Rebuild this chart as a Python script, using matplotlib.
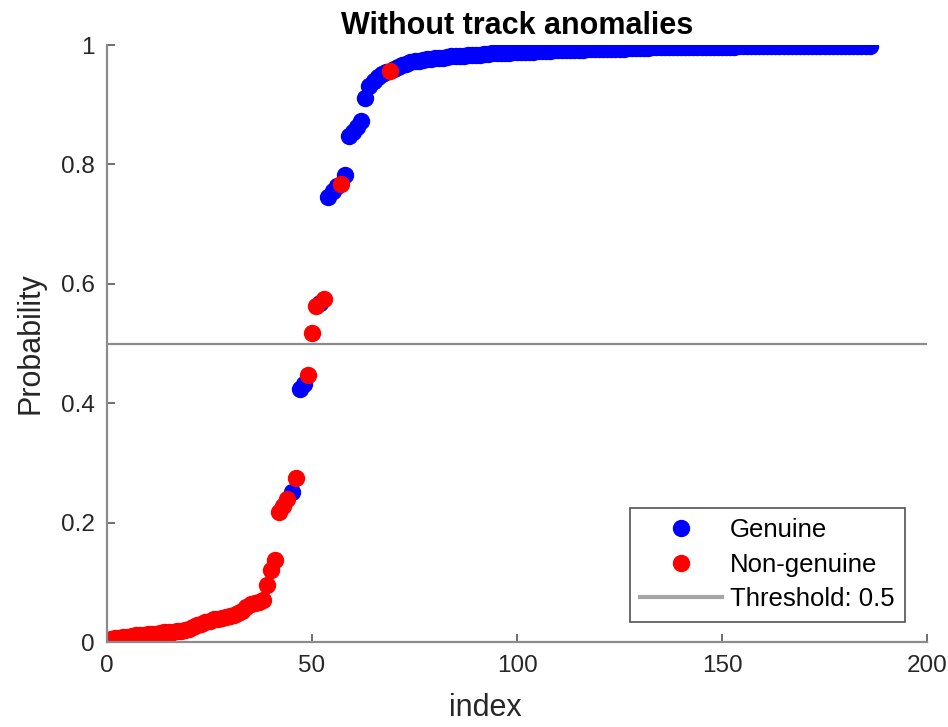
import matplotlib
matplotlib.use("Agg")
import matplotlib.pyplot as plt

plt.rcParams["font.family"] = ["Liberation Sans", "DejaVu Sans"]

# %%
# probability per sorted sample (index 1..186)
prob = [
    0.005, 0.006, 0.007, 0.008, 0.009, 0.010, 0.011, 0.012, 0.012, 0.013,
    0.014, 0.014, 0.015, 0.016, 0.016, 0.017, 0.018, 0.019, 0.020, 0.022,
    0.025, 0.028, 0.030, 0.033, 0.036, 0.038, 0.039, 0.040, 0.042, 0.044,
    0.046, 0.048, 0.052, 0.058, 0.063, 0.065, 0.067, 0.070, 0.095, 0.120,
    0.138, 0.218, 0.228, 0.240, 0.252, 0.275, 0.424, 0.432, 0.447, 0.517,
    0.563, 0.568, 0.574, 0.745, 0.755, 0.763, 0.768, 0.782, 0.848, 0.855,
    0.862, 0.872, 0.912, 0.932, 0.940, 0.946, 0.951, 0.954, 0.956, 0.960,
    0.963, 0.966, 0.969, 0.971, 0.973, 0.974, 0.975, 0.976, 0.977, 0.978,
    0.979, 0.979, 0.980, 0.981, 0.981, 0.982, 0.982, 0.983, 0.983, 0.984,
    0.984, 0.985, 0.985, 0.986, 0.986, 0.986, 0.987, 0.987, 0.988, 0.988,
    0.988, 0.989, 0.989, 0.989, 0.990, 0.990, 0.990, 0.990, 0.991, 0.991,
    0.991, 0.991, 0.992, 0.992, 0.992, 0.992, 0.993, 0.993, 0.993, 0.993,
    0.993, 0.994, 0.994, 0.994, 0.994, 0.994, 0.995, 0.995, 0.995, 0.995,
    0.995, 0.995, 0.996, 0.996, 0.996, 0.996, 0.996, 0.996, 0.996, 0.997,
    0.997, 0.997, 0.997, 0.997, 0.997, 0.997, 0.997, 0.997, 0.997, 0.997,
    0.997, 0.997, 0.997, 0.998, 0.998, 0.998, 0.998, 0.998, 0.998, 0.998,
    0.998, 0.998, 0.998, 0.998, 0.998, 0.998, 0.998, 0.998, 0.998, 0.998,
    0.998, 0.998, 0.999, 0.999, 0.999, 0.999, 0.999, 0.999, 0.999, 0.999,
    0.999, 0.999, 0.999, 0.999, 0.999, 0.999,
]

# 1-based indices of the non-genuine samples
nongenuine_index = list(range(1, 45)) + [46, 49, 50, 51, 53, 57, 69]

threshold = 0.5
x_ticks = [0, 50, 100, 150, 200]
y_ticks = [0, 0.2, 0.4, 0.6, 0.8, 1]
y_tick_labels = ["0", "0.2", "0.4", "0.6", "0.8", "1"]

# %%
index = list(range(1, len(prob) + 1))
gen_x = [i for i in index if i not in nongenuine_index]
gen_y = [prob[i - 1] for i in gen_x]
non_x = [i for i in index if i in nongenuine_index]
non_y = [prob[i - 1] for i in non_x]

fig = plt.figure(figsize=(9.48, 7.27), dpi=100)
ax = fig.add_axes([0.1129, 0.1169, 0.865, 0.8212])

ax.plot(gen_x, gen_y, "o", color="#0000ff", markersize=11.5, label="Genuine")
ax.plot(non_x, non_y, "o", color="#ff0000", markersize=11.5, label="Non-genuine")
ax.axhline(threshold, color="#8a8a8a", linewidth=1.6)
# legend proxy: the legend line looks lighter and thicker
ax.plot([], [], color="#a6a6a6", linewidth=3, label="Threshold: 0.5")

ax.set_xlim(0, 200)
ax.set_ylim(0, 1)
ax.set_xticks(x_ticks)
ax.set_yticks(y_ticks)
ax.set_yticklabels(y_tick_labels)

for side in ["top", "right"]:
    ax.spines[side].set_visible(False)
for side in ["left", "bottom"]:
    ax.spines[side].set_color("#8c8c8c")
    ax.spines[side].set_linewidth(1.6)

ax.tick_params(direction="in", length=6, width=1.2, color="#555555",
               labelsize=17.5, labelcolor="#262626", pad=9)

ax.set_xlabel("index", fontsize=22, color="#262626")
ax.xaxis.set_label_coords(0.461, -0.085)
ax.set_ylabel("Probability", fontsize=22, color="#262626", labelpad=11)
ax.set_title("Without track anomalies", fontsize=22, fontweight="bold", pad=8)

leg = ax.legend(loc="lower right", bbox_to_anchor=(0.973, 0.034), fontsize=18.5,
                frameon=True, fancybox=False, edgecolor="#262626",
                handlelength=3.2, borderpad=0.4, labelspacing=0.42,
                handletextpad=0.3, borderaxespad=0)
leg.get_frame().set_linewidth(1.2)

fig.savefig("out.png", dpi=100)
